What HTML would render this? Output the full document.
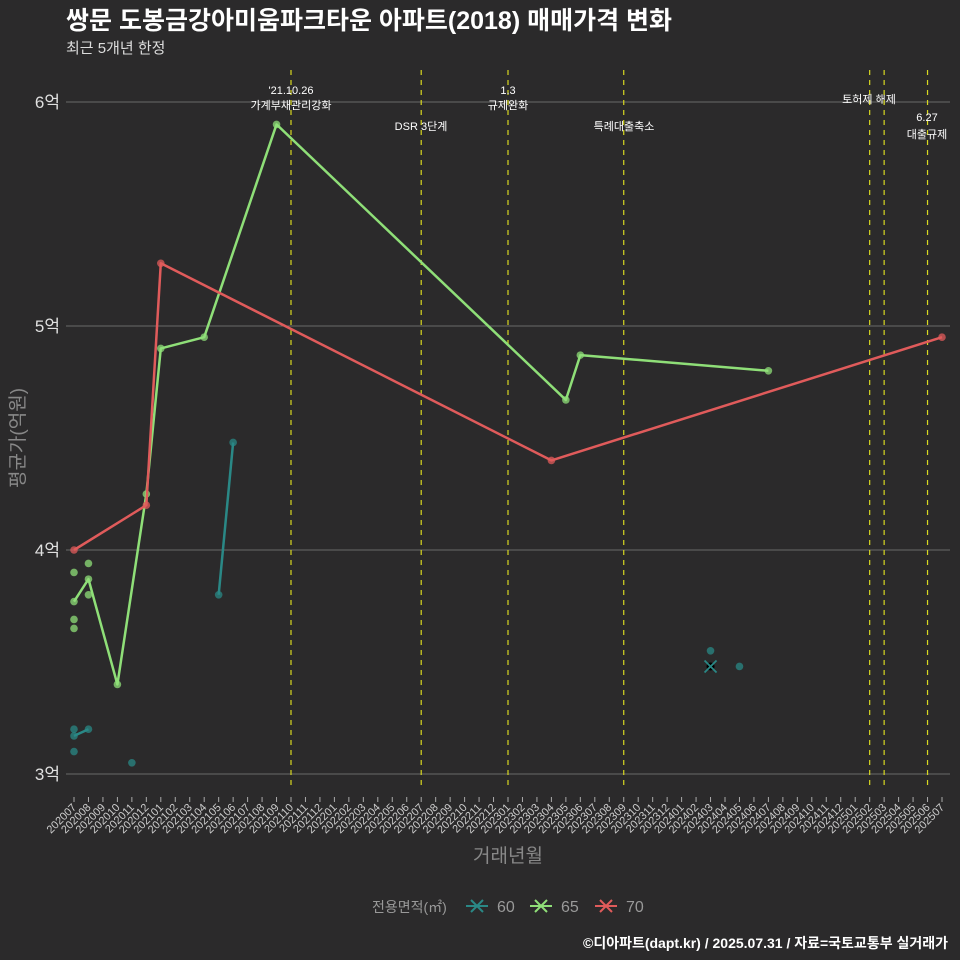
<!DOCTYPE html>
<html><head><meta charset="utf-8">
<style>
html,body{margin:0;padding:0;background:#2b2a2b;}
svg{display:block;font-family:"Liberation Sans","Noto Sans CJK KR",sans-serif;}
</style></head>
<body>
<svg id="chart" width="960" height="960" viewBox="0 0 960 960" xmlns="http://www.w3.org/2000/svg">
<rect width="960" height="960" fill="#2b2a2b"/>
<text x="66" y="29" fill="#ffffff" font-size="25" font-weight="bold">쌍문 도봉금강아미움파크타운 아파트(2018) 매매가격 변화</text>
<text x="66" y="53" fill="#dddddd" font-size="15">최근 5개년 한정</text>
<g id="grid"></g><g id="events"></g><g id="series"></g><g id="xaxis"></g><g id="yaxis"></g>
<text x="508" y="862" fill="#888" font-size="19" text-anchor="middle">거래년월</text>
<text transform="translate(24,438) rotate(-90)" fill="#888" font-size="19" text-anchor="middle">평균가(억원)</text>
<g>
<text x="372" y="912" fill="#999" font-size="14">전용면적(㎡)</text>
<g id="legend"></g>
</g>
<text x="948" y="948" fill="#ffffff" font-size="14" font-weight="bold" text-anchor="end">©디아파트(dapt.kr) / 2025.07.31 / 자료=국토교통부 실거래가</text>
</svg>
<script>
const NS="http://www.w3.org/2000/svg";
const yTicks=[3,4,5,6];
const seriesNames=["60","65","70"];
const seriesColors=["#2a8886","#8fdf78","#e05b5b"];
const line60=[["202007",3.17],["202008",3.20],null,["202105",3.80],["202106",4.48]];
const line65=[["202007",3.77],["202008",3.87],["202010",3.40],["202012",4.25],["202101",4.90],["202104",4.95],["202109",5.90],["202305",4.67],["202306",4.87],["202407",4.80]];
const line70=[["202007",4.00],["202012",4.20],["202101",5.28],["202304",4.40],["202507",4.95]];
const pts60=[["202007",3.20],["202007",3.10],["202011",3.05],["202403",3.55],["202405",3.48]];
const pts65=[["202007",3.90],["202007",3.69],["202007",3.65],["202008",3.94],["202008",3.80]];
const single60=[["202403",3.48]];
const eventMonths=["202110","202207","202301","202309","202502","202503","202506"];
const eventLabels=[["'21.10.26","가계부채관리강화"],["DSR 3단계"],["1.3","규제완화"],["특례대출축소"],["토허제 해제"],[""],["6.27","대출규제"]];
const eventLabelX=[[291,291],[421],[508,508],[624],[869],[0],[927,927]];
const eventLabelY=[[94,109],[130],[94,109],[130],[103],[0],[121,138]];

const months=[];
for(let y=2020,m=7;;){months.push(""+y+(m<10?"0":"")+m);if(y===2025&&m===7)break;m++;if(m>12){m=1;y++;}}
const x0=74,x1=942,yTop=102,yBot=774;
const xs=mo=>x0+months.indexOf(mo)*(x1-x0)/(months.length-1);
const ys=v=>yBot-(v-3)*(yBot-yTop)/3;
function el(tag,attrs,parent){const e=document.createElementNS(NS,tag);for(const k in attrs)e.setAttribute(k,attrs[k]);parent.appendChild(e);return e;}

const grid=document.getElementById('grid'),yaxis=document.getElementById('yaxis');
yTicks.forEach(t=>{
  const l=el('line',{x1:66,x2:950,y1:ys(t),y2:ys(t),stroke:'#6a6a6a','stroke-width':0.9},grid);
  
  
  const tx=el('text',{x:60,y:ys(t)+6,fill:'#e0e0e0','font-size':17,'text-anchor':'end'},yaxis);
  tx.textContent=t+'억';
  
  
});
const xaxis=document.getElementById('xaxis');
months.forEach(mo=>{
  const x=xs(mo);
  el('line',{x1:x,x2:x,y1:797,y2:802,stroke:'#aaa','stroke-width':1},xaxis);
  const t=el('text',{x:0,y:0,fill:'#cccccc','font-size':11,'text-anchor':'end',transform:`translate(${x+3},${808}) rotate(-45)`},xaxis);
  t.textContent=mo;
  
  
});
const ev=document.getElementById('events');
eventMonths.forEach((mo,i)=>{
  const x=xs(mo);
  const l=el('line',{x1:x,x2:x,y1:70,y2:790,stroke:'#d8d820','stroke-width':1.2,'stroke-dasharray':'5,5'},ev);
  
  
  eventLabels[i].forEach((s,j)=>{
    if(!s)return;
    const t=el('text',{x:eventLabelX[i][j],y:eventLabelY[i][j],fill:'#ffffff','font-size':11,'text-anchor':'middle'},ev);
    t.textContent=s;
    
    
  });
});
const sg=document.getElementById('series');
function drawPts(arr,c){arr.forEach(p=>{const d=el('circle',{cx:xs(p[0]),cy:ys(p[1]),r:3.8,fill:c,'fill-opacity':0.75},sg);
  
  });}
function drawLine(arr,c,name){
  let segs=[[]];arr.forEach(p=>{if(p===null)segs.push([]);else segs[segs.length-1].push(p);});
  segs.forEach(s=>{if(s.length<2)return;
    const pl=el('polyline',{points:s.map(p=>xs(p[0])+','+ys(p[1])).join(' '),fill:'none',stroke:c,'stroke-width':2.5,'stroke-linejoin':'round'},sg);
    
    });
  drawPts(arr.filter(p=>p),c);
}
drawPts(pts60,seriesColors[0]);drawPts(pts65,seriesColors[1]);
drawLine(line60,seriesColors[0],'60');drawLine(line65,seriesColors[1],'65');drawLine(line70,seriesColors[2],'70');
single60.forEach(p=>{const x=xs(p[0]),y=ys(p[1]);
  const c=el('circle',{cx:x,cy:y,r:4,fill:'#000'},sg);
  
  
  el('path',{d:`M${x-6},${y-6}L${x+6},${y+6}M${x-6},${y+6}L${x+6},${y-6}`,stroke:seriesColors[0],'stroke-width':1.8},sg);
});
const lg=document.getElementById('legend');
const lx=[466,530,595];
seriesNames.forEach((n,i)=>{
  const g=el('g',{},lg);
  
  
  const x=lx[i],y=906;
  el('path',{d:`M${x},${y}H${x+22}M${x+5},${y-6}L${x+17},${y+6}M${x+5},${y+6}L${x+17},${y-6}`,stroke:seriesColors[i],'stroke-width':2},g);
  const t=el('text',{x:x+31,y:y+6,fill:'#999','font-size':16},g);t.textContent=n;
});
</script>
</body></html>
